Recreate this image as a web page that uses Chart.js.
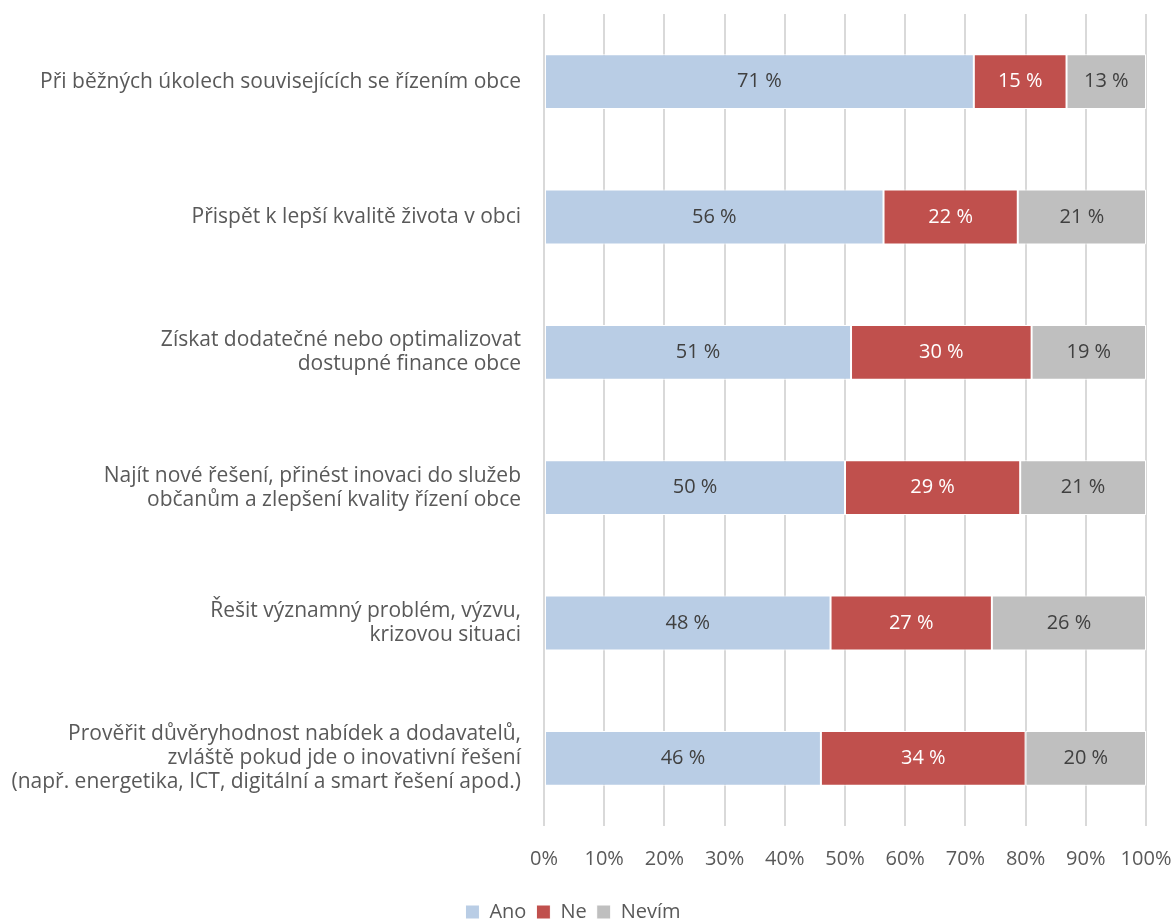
<!DOCTYPE html>
<html>
<head>
<meta charset="utf-8">
<script src="https://cdn.jsdelivr.net/npm/chart.js@4/dist/chart.umd.min.js"></script>
<style>
  body { margin: 0; background: #fff; }
  #wrap { width: 1176px; height: 920px; }
</style>
</head>
<body>
<div id="wrap"><canvas id="chart" width="1176" height="920"></canvas></div>
<script>
const categories = [
    ['Při běžných úkolech souvisejících se řízením obce'],
    ['Přispět k lepší kvalitě života v obci'],
    ['Získat dodatečné nebo optimalizovat', 'dostupné finance obce'],
    ['Najít nové řešení, přinést inovaci do služeb', 'občanům a zlepšení kvality řízení obce'],
    ['Řešit významný problém, výzvu,', 'krizovou situaci'],
    ['Prověřit důvěryhodnost nabídek a dodavatelů,', 'zvláště pokud jde o inovativní řešení', '(např. energetika, ICT, digitální a smart řešení apod.)']
];
const ano = [71.4, 56.4, 51.0, 50.0, 47.6, 46.0];
const ne = [15.4, 22.3, 30.0, 29.1, 26.8, 34.0];
const nevim = [13.2, 21.3, 19.0, 20.9, 25.6, 20.0];
const xTicks = [0, 10, 20, 30, 40, 50, 60, 70, 80, 90, 100];

const FONT = '"Open Sans"';
const labelColors = ['#404040', '#ffffff', '#404040'];

// hodnoty uprostřed segmentů
const barLabels = {
    id: 'barLabels',
    afterDatasetsDraw(chart) {
        const { ctx } = chart;
        ctx.save();
        ctx.font = '20px ' + FONT;
        ctx.textAlign = 'center';
        ctx.textBaseline = 'middle';
        chart.data.datasets.forEach((ds, di) => {
            const meta = chart.getDatasetMeta(di);
            ctx.fillStyle = labelColors[di];
            meta.data.forEach((bar, i) => {
                const x = (bar.x + bar.base) / 2;
                ctx.fillText(Math.round(ds.data[i]) + ' %', x, bar.y);
            });
        });
        ctx.restore();
    }
};

new Chart(document.getElementById('chart'), {
    type: 'bar',
    data: {
        labels: categories,
        datasets: [
            { label: 'Ano', data: ano, backgroundColor: '#B9CDE5' },
            { label: 'Ne', data: ne, backgroundColor: '#C0504D' },
            { label: 'Nevím', data: nevim, backgroundColor: '#BFBFBF' }
        ].map(d => Object.assign(d, {
            borderColor: '#ffffff', borderWidth: 1, borderSkipped: false,
            barPercentage: 0.405, categoryPercentage: 1
        }))
    },
    options: {
        indexAxis: 'y',
        responsive: false,
        animation: false,
        layout: { padding: { top: 14, right: 30, bottom: -12, left: 0 } },
        scales: {
            x: {
                stacked: true,
                min: 0,
                max: 100,
                afterBuildTicks: s => { s.ticks = xTicks.map(v => ({ value: v })); },
                afterFit: s => { s.paddingLeft = 0; s.paddingRight = 0; },
                ticks: {
                    callback: v => v + '%',
                    color: '#595959',
                    font: { family: FONT, size: 20 },
                    padding: 21
                },
                grid: { color: '#D9D9D9', lineWidth: 2, drawTicks: false },
                border: { display: false }
            },
            y: {
                stacked: true,
                afterFit: s => { s.width = 544; s.paddingTop = 0; s.paddingBottom = 0; },
                ticks: {
                    color: '#595959',
                    font: { family: FONT, size: 21, lineHeight: 1.15 },
                    padding: 23
                },
                grid: { display: false, drawTicks: false },
                border: { display: false }
            }
        },
        plugins: {
            legend: {
                position: 'bottom',
                labels: {
                    boxWidth: 14,
                    boxHeight: 14,
                    color: '#595959',
                    font: { family: FONT, size: 20 },
                    padding: 10
                }
            },
            tooltip: { enabled: false }
        }
    },
    plugins: [barLabels]
});
</script>
</body>
</html>
